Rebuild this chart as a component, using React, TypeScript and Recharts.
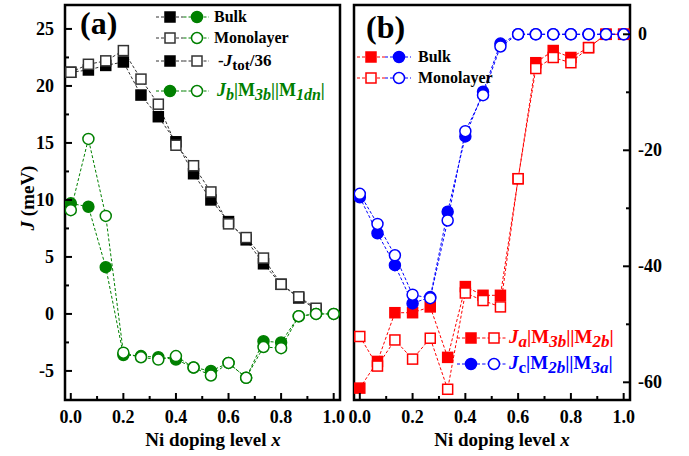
import React from "react";
import { LineChart, Line, XAxis, YAxis, ReferenceArea } from "recharts";

// Ni doping level x (step 1/15)
const xs = [0, 0.067, 0.133, 0.2, 0.267, 0.333, 0.4, 0.467, 0.533, 0.6, 0.667, 0.733, 0.8, 0.867, 0.933, 1.0];

// panel (a): -Jtot/36 and Jb, meV
const totBulk = [21.2, 21.4, 21.8, 22.1, 19.2, 17.3, 15.1, 12.3, 10.0, 8.1, 6.5, 4.4, 2.6, 1.4, 0.4, null];
const totMono = [21.2, 21.9, 22.2, 23.1, 20.6, 18.4, 14.8, 13.0, 10.7, 7.9, 6.7, 4.9, 2.6, 1.5, 0.5, null];
const jbBulk = [9.7, 9.4, 4.1, -3.6, -3.7, -3.8, -4.0, -4.7, -5.0, -4.3, -5.6, -2.4, -2.5, -0.2, 0, 0];
const jbMono = [9.1, 15.35, 8.6, -3.4, -3.8, -4.0, -3.7, -4.7, -5.4, -4.3, -5.6, -2.9, -3.0, -0.2, 0, 0];

// panel (b): Ja and Jc, meV
const jaBulk = [-61.0, -56.4, -48.0, -48.0, -47.0, -55.7, -43.5, -45.0, -45.0, -24.9, -4.9, -2.8, -4.0, -2.3, 0, 0];
const jaMono = [-52.1, -57.2, -52.7, -56.0, -52.4, -61.2, -44.6, -45.9, -47.0, -24.9, -5.9, -4.0, -4.9, -2.3, 0, 0];
const jcBulk = [-28.1, -34.3, -39.8, -46.4, -45.3, -30.6, -17.6, -9.9, -1.6, 0, 0, 0, 0, 0, 0, 0];
const jcMono = [-27.5, -32.7, -38.1, -44.9, -45.5, -32.1, -16.7, -10.5, -2.1, 0, 0, 0, 0, 0, 0, 0];

const xTicks = [0, 0.1, 0.2, 0.3, 0.4, 0.5, 0.6, 0.7, 0.8, 0.9, 1.0];
const yTicksA = [-5, -2.5, 0, 2.5, 5, 7.5, 10, 12.5, 15, 17.5, 20, 22.5, 25];
const yTicksB = [-60, -50, -40, -30, -20, -10, 0];

const xDomain = [-0.022, 1.024];
const yDomainA = [-7.55, 27.1];
const yDomainB = [-63.05, 5.05];

const dataA = xs.map((x, i) => ({ x, totBulk: totBulk[i], totMono: totMono[i], jbBulk: jbBulk[i], jbMono: jbMono[i] }));
const dataB = xs.map((x, i) => ({ x, jaBulk: jaBulk[i], jaMono: jaMono[i], jcBulk: jcBulk[i], jcMono: jcMono[i] }));

const FONT = '"Liberation Serif", "Times New Roman", serif';
const GREEN = "#008000";
const RED = "#ff0000";
const BLUE = "#0000ff";

const squareDot = (color: string, filled: boolean) => (p: any) => {
  const { cx, cy, index } = p;
  if (cx == null || cy == null || p.value == null) return <g key={`s${index}`} />;
  return (
    <rect key={`s${index}`} x={cx - 5} y={cy - 5} width={10} height={10}
      fill={filled ? color : "#fff"} stroke={color} strokeWidth={1.5} />
  );
};

const circleDot = (color: string, filled: boolean) => (p: any) => {
  const { cx, cy, index } = p;
  if (cx == null || cy == null || p.value == null) return <g key={`c${index}`} />;
  return <circle key={`c${index}`} cx={cx} cy={cy} r={5.5} fill={filled ? color : "#fff"} stroke={color} strokeWidth={1.5} />;
};

const XTick = (p: any) => {
  const v = p.payload.value;
  const major = Math.round(v * 10) % 2 === 0;
  return (
    <g>
      <line x1={p.x} x2={p.x} y1={p.y} y2={p.y - (major ? 7 : 4)} stroke="#000" strokeWidth={2} />
      {major && (
        <text x={p.x} y={p.y + 23} textAnchor="middle" fontFamily={FONT} fontWeight="bold" fontSize={18} fill="#000">
          {v.toFixed(1)}
        </text>
      )}
    </g>
  );
};

const YTickA = (p: any) => {
  const v = p.payload.value;
  const major = v % 5 === 0;
  return (
    <g>
      <line x1={p.x} x2={p.x + (major ? 7 : 4)} y1={p.y} y2={p.y} stroke="#000" strokeWidth={2} />
      {major && (
        <text x={p.x - 11} y={p.y + 6} textAnchor="end" fontFamily={FONT} fontWeight="bold" fontSize={18} fill="#000">
          {v}
        </text>
      )}
    </g>
  );
};

const YTickB = (p: any) => {
  const v = p.payload.value;
  const major = v % 20 === 0;
  return (
    <g>
      <line x1={p.x} x2={p.x - (major ? 7 : 4)} y1={p.y} y2={p.y} stroke="#000" strokeWidth={2} />
      {major && (
        <text x={p.x + 8} y={p.y + 6} textAnchor="start" fontFamily={FONT} fontWeight="bold" fontSize={18} fill="#000">
          {v}
        </text>
      )}
    </g>
  );
};

const dash = "3 2";

// parts: [text, style] where style: n normal, i italic, s subscript, si italic subscript
function rich(parts: [string, string][], subSize = 15) {
  let low = false;
  return parts.map(([t, st], k) => {
    const isSub = st.startsWith("s");
    const dy = isSub && !low ? 4 : !isSub && low ? -4 : 0;
    low = isSub;
    return (
      <tspan key={k} dy={dy || undefined} fontSize={isSub ? subSize : undefined}
        fontStyle={st === "i" || st === "si" ? "italic" : "normal"}>{t}</tspan>
    );
  });
}

function LegendRow({ y, x1, x2, c1, c2, m1, m2, text, tx }: any) {
  const mark = (m: string, x: number) => {
    const [shape, color, fill] = m.split(":");
    const f = fill === "f" ? color : "#fff";
    return shape === "s" ? (
      <rect x={x - 5} y={y - 5} width={10} height={10} fill={f} stroke={color} strokeWidth={1.5} />
    ) : (
      <circle cx={x} cy={y} r={5.5} fill={f} stroke={color} strokeWidth={1.5} />
    );
  };
  const mid = (x1 + x2) / 2;
  return (
    <g>
      <line x1={x1 - 14} x2={mid} y1={y} y2={y} stroke={c1} strokeWidth={1} strokeDasharray={dash} />
      <line x1={mid} x2={x2 + 12} y1={y} y2={y} stroke={c2} strokeWidth={1} strokeDasharray={dash} />
      {mark(m1, x1)}
      {mark(m2, x2)}
      <g transform={`translate(${tx},${y + 5})`}>{text}</g>
    </g>
  );
}

export default function App() {
  return (
    <div style={{ position: "absolute", left: 0, top: 0, width: 689, height: 456, background: "#fff" }}>
      <div style={{ position: "absolute", left: 0, top: 0 }}>
        <LineChart width={360} height={456} data={dataA} margin={{ top: 5, right: 20, bottom: 26, left: 10 }}>
          <XAxis dataKey="x" type="number" domain={xDomain} allowDataOverflow ticks={xTicks} interval={0}
            axisLine={false} tickLine={false} tickSize={0} tickMargin={0} height={30} tick={<XTick />} />
          <YAxis type="number" domain={yDomainA} allowDataOverflow ticks={yTicksA} interval={0} width={55}
            axisLine={false} tickLine={false} tickSize={0} tickMargin={0} tick={<YTickA />} />
          <Line dataKey="totBulk" stroke="#333" strokeWidth={1} strokeDasharray={dash} dot={squareDot("#000", true)} isAnimationActive={false} />
          <Line dataKey="totMono" stroke="#333" strokeWidth={1} strokeDasharray={dash} dot={squareDot("#333", false)} isAnimationActive={false} />
          <Line dataKey="jbBulk" stroke={GREEN} strokeWidth={1} strokeDasharray={dash} dot={circleDot(GREEN, true)} isAnimationActive={false} />
          <Line dataKey="jbMono" stroke={GREEN} strokeWidth={1} strokeDasharray={dash} dot={circleDot(GREEN, false)} isAnimationActive={false} />
          <ReferenceArea x1={xDomain[0]} x2={xDomain[1]} y1={yDomainA[0]} y2={yDomainA[1]} fill="none" fillOpacity={0} stroke="#000" strokeWidth={2.5} />
        </LineChart>
      </div>
      <div style={{ position: "absolute", left: 330, top: 0 }}>
        <LineChart width={359} height={456} data={dataB} margin={{ top: 5, right: 9, bottom: 26, left: 24 }}>
          <XAxis dataKey="x" type="number" domain={xDomain} allowDataOverflow ticks={xTicks} interval={0}
            axisLine={false} tickLine={false} tickSize={0} tickMargin={0} height={30} tick={<XTick />} />
          <YAxis orientation="right" type="number" domain={yDomainB} allowDataOverflow ticks={yTicksB} interval={0} width={50}
            axisLine={false} tickLine={false} tickSize={0} tickMargin={0} tick={<YTickB />} />
          <Line dataKey="jaBulk" stroke={RED} strokeWidth={1} strokeDasharray={dash} dot={squareDot(RED, true)} isAnimationActive={false} />
          <Line dataKey="jaMono" stroke={RED} strokeWidth={1} strokeDasharray={dash} dot={squareDot(RED, false)} isAnimationActive={false} />
          <Line dataKey="jcBulk" stroke={BLUE} strokeWidth={1} strokeDasharray={dash} dot={circleDot(BLUE, true)} isAnimationActive={false} />
          <Line dataKey="jcMono" stroke={BLUE} strokeWidth={1} strokeDasharray={dash} dot={circleDot(BLUE, false)} isAnimationActive={false} />
          <ReferenceArea x1={xDomain[0]} x2={xDomain[1]} y1={yDomainB[0]} y2={yDomainB[1]} fill="none" fillOpacity={0} stroke="#000" strokeWidth={2.5} />
        </LineChart>
      </div>

      <svg width={689} height={456} style={{ position: "absolute", left: 0, top: 0, pointerEvents: "none" }}
        fontFamily={FONT} fontWeight="bold">
        <text x={80} y={34} fontSize={32}>(a)</text>
        <text x={366} y={38} fontSize={32}>(b)</text>

        <text transform="translate(34,198) rotate(-90)" textAnchor="middle" fontSize={19}>
          <tspan fontStyle="italic">J</tspan> (meV)
        </text>
        <text x={213} y={446} textAnchor="middle" fontSize={19}>
          Ni doping level <tspan fontStyle="italic">x</tspan>
        </text>
        <text x={502} y={446} textAnchor="middle" fontSize={19}>
          Ni doping level <tspan fontStyle="italic">x</tspan>
        </text>

        {/* legend (a) */}
        <LegendRow y={17} x1={170} x2={197} c1="#333" c2={GREEN} m1="s:#000:f" m2={`c:${GREEN}:f`} tx={214}
          text={<text fontSize={16}>Bulk</text>} />
        <LegendRow y={38} x1={170} x2={197} c1="#333" c2={GREEN} m1="s:#333:o" m2={`c:${GREEN}:o`} tx={214}
          text={<text fontSize={16}>Monolayer</text>} />
        <LegendRow y={61} x1={170} x2={197} c1="#333" c2="#333" m1="s:#000:f" m2="s:#333:o" tx={218}
          text={<text fontSize={17}>{rich([["-", "n"], ["J", "i"], ["tot", "s"], ["/36", "n"]])}</text>} />
        <LegendRow y={91} x1={170} x2={197} c1={GREEN} c2={GREEN} m1={`c:${GREEN}:f`} m2={`c:${GREEN}:o`} tx={217}
          text={<text fontSize={18} fill={GREEN}>{rich([["J", "i"], ["b", "si"], ["|M", "n"], ["3b", "si"], ["||M", "n"], ["1dn", "si"], ["|", "n"]], 16)}</text>} />

        {/* legend (b) */}
        <LegendRow y={57} x1={371} x2={399} c1={RED} c2={BLUE} m1={`s:${RED}:f`} m2={`c:${BLUE}:f`} tx={418}
          text={<text fontSize={16}>Bulk</text>} />
        <LegendRow y={78} x1={371} x2={399} c1={RED} c2={BLUE} m1={`s:${RED}:o`} m2={`c:${BLUE}:o`} tx={418}
          text={<text fontSize={16}>Monolayer</text>} />
        <LegendRow y={338} x1={471} x2={494} c1={RED} c2={RED} m1={`s:${RED}:f`} m2={`s:${RED}:o`} tx={509}
          text={<text fontSize={19} fill={RED}>{rich([["J", "i"], ["a", "si"], ["|M", "n"], ["3b", "si"], ["||M", "n"], ["2b", "si"], ["|", "n"]], 17)}</text>} />
        <LegendRow y={364} x1={471} x2={494} c1={BLUE} c2={BLUE} m1={`c:${BLUE}:f`} m2={`c:${BLUE}:o`} tx={509}
          text={<text fontSize={19} fill={BLUE}>{rich([["J", "i"], ["c", "s"], ["|M", "n"], ["2b", "si"], ["||M", "n"], ["3a", "si"], ["|", "n"]], 17)}</text>} />
      </svg>
    </div>
  );
}
